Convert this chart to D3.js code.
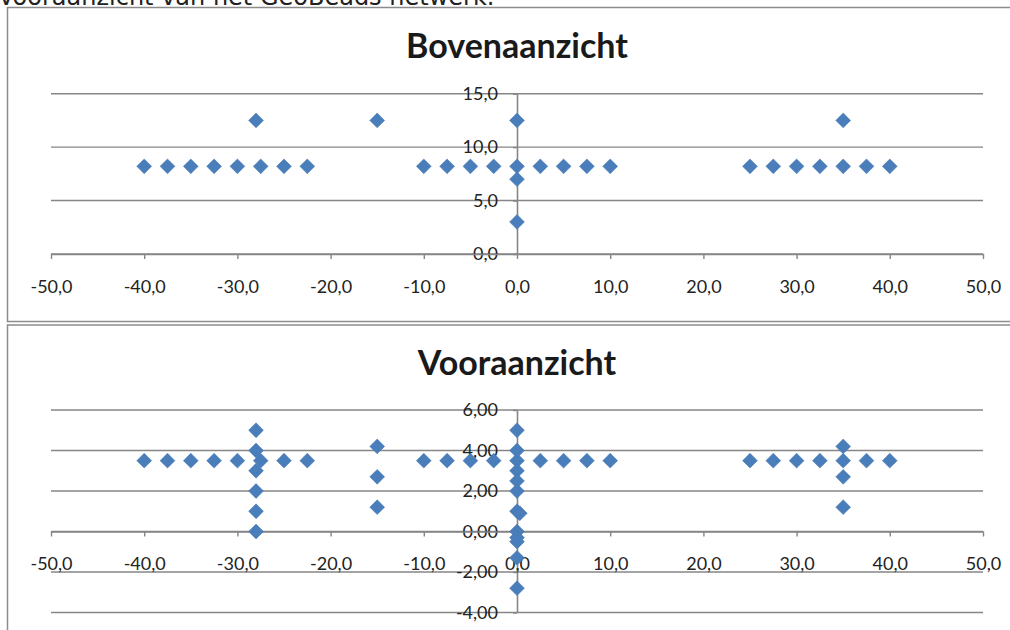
<!DOCTYPE html>
<html>
<head>
<meta charset="utf-8">
<script src="https://cdn.jsdelivr.net/npm/d3@7"></script>
<style>
  body { margin: 0; background: #fff; }
  svg { display: block; }
  .tick text { font-family: Lato, "Open Sans", sans-serif; font-size: 18px; fill: #222; }
</style>
</head>
<body>
<svg id="chart" width="1010" height="630"></svg>
<script>
// Bovenaanzicht (top view)
const topX = [-40, -37.5, -35, -32.5, -30, -27.5, -25, -22.5, -10, -7.5, -5, -2.5, 0, 2.5, 5, 7.5, 10,
              25, 27.5, 30, 32.5, 35, 37.5, 40, -28, -15, 0, 35, 0, 0];
const topY = [8.2, 8.2, 8.2, 8.2, 8.2, 8.2, 8.2, 8.2, 8.2, 8.2, 8.2, 8.2, 8.2, 8.2, 8.2, 8.2, 8.2,
              8.2, 8.2, 8.2, 8.2, 8.2, 8.2, 8.2, 12.5, 12.5, 12.5, 12.5, 7.0, 3.0];

// Vooraanzicht (front view)
const frontX = [-40, -37.5, -35, -32.5, -30, -27.5, -25, -22.5, -10, -7.5, -5, -2.5, 0, 2.5, 5, 7.5, 10,
                25, 27.5, 30, 32.5, 35, 37.5, 40,
                -28, -28, -28, -28, -28, -28,
                -15, -15, -15,
                35, 35, 35,
                0, 0, 0, 0, 0, 0, 0.3, 0, 0, 0, 0, 0];
const frontY = [3.5, 3.5, 3.5, 3.5, 3.5, 3.5, 3.5, 3.5, 3.5, 3.5, 3.5, 3.5, 3.5, 3.5, 3.5, 3.5, 3.5,
                3.5, 3.5, 3.5, 3.5, 3.5, 3.5, 3.5,
                5, 4, 3, 2, 1, 0,
                4.2, 2.7, 1.2,
                4.2, 2.7, 1.2,
                5, 4, 3, 2.5, 2, 1, 0.9, 0, -0.3, -0.5, -1.3, -2.8];

const xTicks = [-50, -40, -30, -20, -10, 0, 10, 20, 30, 40, 50];
const topYTicks = [0, 5, 10, 15];
const frontYTicks = [-4, -2, 0, 2, 4, 6];

const svg = d3.select("#chart");
const grey = "#868686";
const blue = "#4a7ebb";

// caption above the charts, cut off by the top edge
svg.append("text")
    .attr("x", -2).attr("y", 5)
    .attr("font-family", "DejaVu Sans, sans-serif")
    .attr("font-size", 24)
    .attr("fill", "#222")
    .text("Vooraanzicht van het GeoBeads netwerk.");

// chart frames
svg.append("rect").attr("x", 7.5).attr("y", 7.5).attr("width", 1020).attr("height", 314)
    .attr("fill", "none").attr("stroke", "#8c8c8c").attr("stroke-width", 1.5);
svg.append("rect").attr("x", 7.5).attr("y", 325).attr("width", 1020).attr("height", 320)
    .attr("fill", "none").attr("stroke", "#8c8c8c").attr("stroke-width", 1.5);

function drawChart(opts) {
    const g = svg.append("g");
    const x = d3.scaleLinear().domain([-50, 50]).range([51, 983]);
    const y = d3.scaleLinear().domain(opts.yDomain).range(opts.yRange);

    // title
    g.append("text")
        .attr("x", 517).attr("y", opts.titleY)
        .attr("text-anchor", "middle")
        .attr("font-family", "Lato, sans-serif")
        .attr("font-weight", "bold")
        .attr("font-size", 34)
        .attr("fill", "#1a1a1a")
        .text(opts.title);

    // horizontal gridlines
    g.selectAll(".grid")
        .data(opts.yTicks)
        .join("line")
        .attr("x1", x(-50)).attr("x2", x(50))
        .attr("y1", d => y(d)).attr("y2", d => y(d))
        .attr("stroke", grey).attr("stroke-width", 1.4);

    // y axis at x = 0
    const yAxis = g.append("g")
        .attr("transform", `translate(${x(0)},0)`)
        .call(d3.axisLeft(y).tickValues(opts.yTicks).tickSize(4).tickSizeOuter(0).tickPadding(15)
            .tickFormat(d => d.toFixed(opts.yDec).replace(".", ",")));
    yAxis.select(".domain").attr("stroke", grey).attr("stroke-width", 1.6);
    yAxis.selectAll(".tick line").attr("stroke", grey).attr("stroke-width", 1.4);

    // x axis at y = 0
    const xAxis = g.append("g")
        .attr("transform", `translate(0,${y(0)})`)
        .call(d3.axisBottom(x).tickValues(xTicks).tickSize(5).tickSizeOuter(0).tickPadding(21)
            .tickFormat(d => d.toFixed(1).replace(".", ",")));
    xAxis.select(".domain").attr("stroke", grey).attr("stroke-width", 1.6);
    xAxis.selectAll(".tick line").attr("stroke", grey).attr("stroke-width", 1.4);

    // markers
    const pts = opts.xs.map((d, i) => [d, opts.ys[i]]);
    g.selectAll(".pt")
        .data(pts)
        .join("path")
        .attr("d", d3.symbol(d3.symbolSquare, 110))
        .attr("transform", d => `translate(${x(d[0])},${y(d[1])}) rotate(45)`)
        .attr("fill", blue)
        .attr("stroke", "#4577b3")
        .attr("stroke-width", 0.5);
}

drawChart({
    title: "Bovenaanzicht", titleY: 58,
    yDomain: [0, 15], yRange: [254, 93.7], yTicks: topYTicks, yDec: 1,
    xs: topX, ys: topY
});

drawChart({
    title: "Vooraanzicht", titleY: 375,
    yDomain: [-4, 6], yRange: [612.5, 410], yTicks: frontYTicks, yDec: 2,
    xs: frontX, ys: frontY
});
</script>
</body>
</html>
